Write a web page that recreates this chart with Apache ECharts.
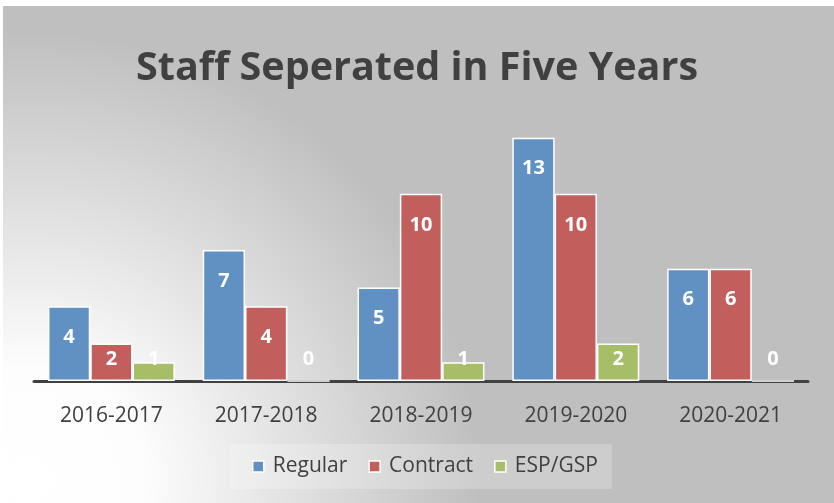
<!DOCTYPE html>
<html>
<head>
<meta charset="utf-8">
<script src="https://cdn.jsdelivr.net/npm/echarts@6/dist/echarts.min.js"></script>
<style>
  html, body { margin: 0; padding: 0; background: #fff; }
  #chart { width: 834px; height: 503px; }
</style>
</head>
<body>
<div id="chart"></div>
<script>
// data
const years = ['2016-2017', '2017-2018', '2018-2019', '2019-2020', '2020-2021']
const regular = [4, 7, 5, 13, 6]
const contract = [2, 4, 10, 10, 6]
const espGsp = [1, 0, 1, 2, 0]

const seriesNames = ['Regular', 'Contract', 'ESP/GSP']
const colors = ['#6190c3', '#c25f5d', '#a5be67']

const chart = echarts.init(document.getElementById('chart'))

// small bars get their label just above the baseline (like excel does)
const toData = (arr) => arr.map(v => v <= 2
  ? { value: v, label: { position: 'insideBottom', distance: 12 } }
  : v)

const makeSeries = (name, arr, color) => ({
  name: name,
  type: 'bar',
  data: toData(arr),
  barGap: '0%',
  barCategoryGap: '18%',
  itemStyle: {
    color: color,
    borderColor: '#ffffff',
    borderWidth: 1.5
  },
  label: {
    show: true,
    position: 'insideTop',
    distance: 21,
    color: '#ffffff',
    fontSize: 20,
    fontWeight: 'bold',
    fontFamily: 'Open Sans'
  }
})

const option = {
  animation: false,
  graphic: [
    {
      type: 'rect',
      z: -10,
      silent: true,
      shape: { x: 3, y: 6, width: 831, height: 497 },
      style: {
        fill: new echarts.graphic.RadialGradient(30, 480, 450, [
          { offset: 0, color: '#ffffff' },
          { offset: 0.25, color: '#fdfdfd' },
          { offset: 1, color: '#bfbfbf' }
        ], true)
      }
    }
  ],
  title: {
    text: 'Staff Seperated in Five Years',
    left: 'center',
    top: 44,
    textStyle: {
      color: '#404040',
      fontSize: 39.5,
      fontWeight: 'bold',
      fontFamily: 'Open Sans'
    }
  },
  legend: {
    data: seriesNames,
    icon: 'rect',
    left: 230,
    top: 444,
    padding: [12, 14, 12, 22],
    backgroundColor: 'rgba(255,255,255,0.22)',
    itemWidth: 11,
    itemHeight: 11,
    itemGap: 21,
    itemStyle: { borderColor: '#ffffff', borderWidth: 1.5 },
    textStyle: {
      color: '#404040',
      fontSize: 21,
      fontFamily: 'Open Sans',
      padding: [0, 0, 0, 4]
    }
  },
  grid: {
    left: 34,
    right: 26,
    top: 119,
    bottom: 122
  },
  xAxis: {
    type: 'category',
    data: years,
    axisLine: { lineStyle: { color: '#404040', width: 3 } },
    axisTick: { show: false },
    axisLabel: {
      color: '#404040',
      fontSize: 21,
      fontFamily: 'Open Sans',
      margin: 25
    }
  },
  yAxis: {
    type: 'value',
    min: 0,
    max: 14,
    interval: 2,
    show: false,
    splitLine: { show: false }
  },
  series: [
    makeSeries(seriesNames[0], regular, colors[0]),
    makeSeries(seriesNames[1], contract, colors[1]),
    makeSeries(seriesNames[2], espGsp, colors[2])
  ]
}

chart.setOption(option)
</script>
</body>
</html>
